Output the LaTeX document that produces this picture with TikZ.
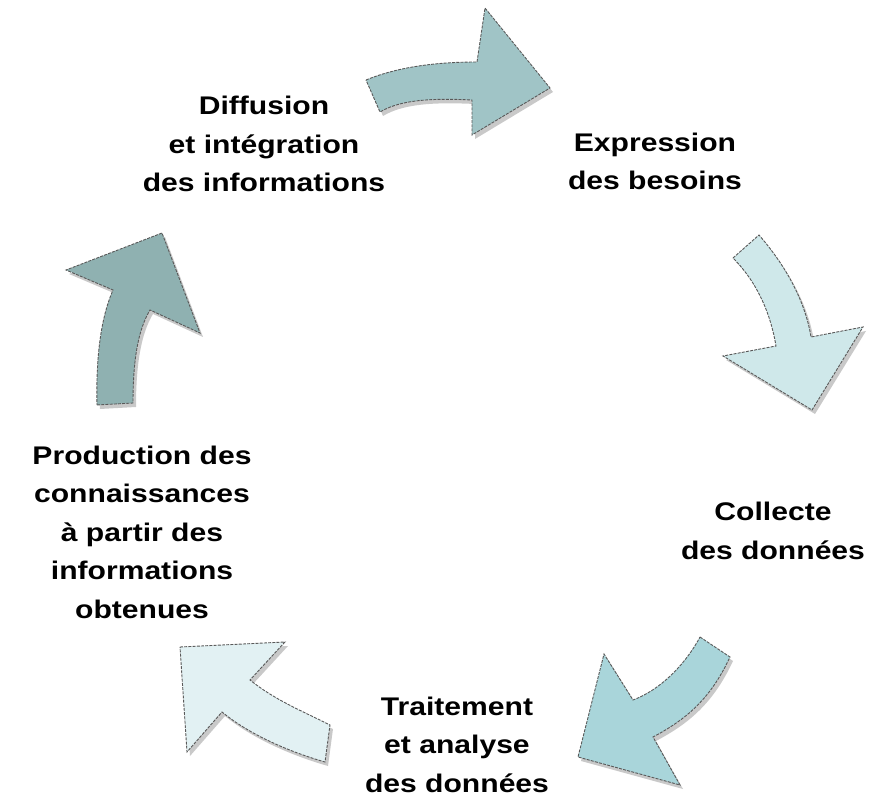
\documentclass[tikz,border=0pt]{standalone}
\usepackage{fontspec}
\setmainfont{Liberation Sans}[FakeStretch=1.18]
\usetikzlibrary{shadows}
\definecolor{flhaut}{HTML}{A0C4C6}
\definecolor{fldroite}{HTML}{CFE8EA}
\definecolor{flbasd}{HTML}{A9D5DA}
\definecolor{flbasg}{HTML}{E2F1F3}
\definecolor{flgauche}{HTML}{8FB1B1}

\begin{document}
\begin{tikzpicture}[x=1pt,y=-1pt,
  fleche/.style={draw=black!65,line width=0.9pt,dash pattern=on 3pt off 1.2pt,
    drop shadow={shadow xshift=3pt,shadow yshift=-4pt,fill=black!30,opacity=.7}},
  etape/.style={font=\bfseries\fontsize{25.5}{38.5}\selectfont,align=center,anchor=base,inner sep=0pt}]
\useasboundingbox (0,0) rectangle (876,799);
% fleches du cycle
\path[fleche,fill=flhaut] (366,80) .. controls (400,66) and (440,62) .. (477,62) -- (485,8) -- (550,88) -- (472,135) -- (472,100) .. controls (430,98) and (400,100) .. (380,112) -- cycle;
\path[fleche,fill=fldroite] (733,258) -- (759,235) .. controls (785,265) and (805,300) .. (811,337) -- (863,327) -- (812,410) -- (723,356) -- (776,346) .. controls (770,310) and (755,280) .. (733,258) -- cycle;
\path[fleche,fill=flbasd] (700,637) -- (730,657) .. controls (710,700) and (685,720) .. (653,737) -- (680,785) -- (578,757) -- (604,654) -- (633,700) .. controls (660,690) and (685,665) .. (700,637) -- cycle;
\path[fleche,fill=flbasg] (180,647) -- (285,642) -- (250,680) .. controls (275,700) and (300,710) .. (330,725) -- (325,762) .. controls (290,752) and (250,735) .. (222,712) -- (187,752) -- cycle;
\path[fleche,fill=flgauche] (97,405) -- (133,403) .. controls (133,360) and (138,330) .. (150,310) -- (200,333) -- (162,233) -- (66,270) -- (113,290) .. controls (100,320) and (96,360) .. (97,405) -- cycle;
% etapes (base = derniere ligne)
\node[etape] (diff) at (264,192) {Diffusion\\et intégration\\des informations};
\node[etape] (expr) at (655,190) {Expression\\des besoins};
\node[etape] (coll) at (773,559) {Collecte\\des données};
\node[etape] (trait) at (457,792) {Traitement\\et analyse\\des données};
\node[etape] (prod) at (142,618) {Production des\\connaissances\\à partir des\\informations\\obtenues};
\end{tikzpicture}
\end{document}
